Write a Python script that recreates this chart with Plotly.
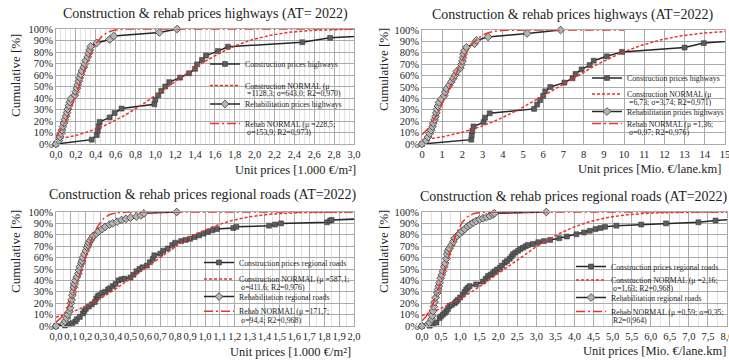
import math
import numpy as np
import plotly.graph_objects as go

# ---------------------------------------------------------------------------
# Cumulative distributions of construction / rehabilitation unit prices (AT 2022)
# x = unit price, pct = cumulative share [%]
# ---------------------------------------------------------------------------

# Highways, unit prices in 1.000 €/m²
hw_m2_con_x = [0.00, 0.36, 0.41, 0.42, 0.43, 0.44, 0.54, 0.59, 0.66, 0.99, 1.00, 1.03, 1.06,
               1.10, 1.14, 1.25, 1.34, 1.40, 1.42, 1.47, 1.51, 1.63, 1.73, 2.48, 2.76, 3.55]
hw_m2_con_pct = [0.0, 3.8, 7.7, 11.5, 15.4, 19.2, 23.1, 26.9, 30.8, 34.6, 38.5, 42.3, 46.2,
                 50.0, 53.8, 57.7, 61.5, 65.4, 69.2, 73.1, 76.9, 80.8, 84.6, 88.5, 92.3, 96.2]
hw_m2_reh_x = [0.00, 0.03, 0.04, 0.05, 0.06, 0.07, 0.08, 0.09, 0.10, 0.11, 0.12, 0.13, 0.14,
               0.15, 0.19, 0.20, 0.21, 0.22, 0.23, 0.24, 0.25, 0.26, 0.28, 0.29, 0.30, 0.32,
               0.33, 0.34, 0.35, 0.41, 0.54, 0.58, 1.04, 1.22]
hw_m2_reh_pct = [0.0, 3.0, 6.1, 9.1, 12.1, 15.2, 18.2, 21.2, 24.2, 27.3, 30.3, 33.3, 36.4,
                 39.4, 42.4, 45.5, 48.5, 51.5, 54.5, 57.6, 60.6, 63.6, 66.7, 69.7, 72.7, 75.8,
                 78.8, 81.8, 84.8, 87.9, 90.9, 93.9, 97.0, 100.0]

# Highways, unit prices in Mio. €/lane.km
hw_km_con_x = [0.00, 2.44, 2.46, 2.49, 2.55, 3.05, 3.12, 3.35, 5.55, 5.70, 5.85, 6.00, 6.10,
               6.35, 7.05, 7.45, 7.60, 7.90, 8.30, 8.50, 9.15, 9.90, 13.00, 13.95, 17.00]
hw_km_con_pct = [0.0, 3.8, 7.7, 11.5, 15.4, 19.2, 23.1, 26.9, 30.8, 34.6, 38.5, 42.3, 46.2,
                 50.0, 53.8, 57.7, 61.5, 65.4, 69.2, 73.1, 76.9, 80.8, 84.6, 88.5, 92.3]
hw_km_reh_x = [0.00, 0.20, 0.30, 0.38, 0.45, 0.52, 0.56, 0.62, 0.67, 0.71, 0.74, 0.79, 0.84,
               0.95, 1.10, 1.15, 1.22, 1.35, 1.45, 1.55, 1.65, 1.72, 1.90, 1.95, 2.00, 2.03,
               2.06, 2.10, 2.20, 2.60, 2.70, 3.27, 5.20, 6.86]
hw_km_reh_pct = hw_m2_reh_pct

# Regional roads, unit prices in 1.000 €/m²
rr_m2_con_x = [0.00, 0.06, 0.09, 0.11, 0.13, 0.14, 0.16, 0.18, 0.19, 0.20, 0.22, 0.24, 0.26,
               0.27, 0.28, 0.29, 0.31, 0.33, 0.35, 0.36, 0.38, 0.40, 0.42, 0.44, 0.46, 0.50,
               0.52, 0.54, 0.56, 0.58, 0.61, 0.63, 0.65, 0.66, 0.70, 0.72, 0.75, 0.78, 0.80,
               0.84, 0.87, 0.90, 0.93, 0.96, 0.99, 1.02, 1.05, 1.08, 1.19, 1.21, 1.43, 1.47,
               1.51, 1.82, 1.84, 1.85, 2.25]
rr_m2_con_pct = [0.0, 0.5, 1.5, 2.5, 4.0, 6.0, 8.0, 11.0, 13.0, 15.0, 17.0, 19.0, 21.0,
                 24.0, 26.0, 27.0, 29.0, 30.0, 32.0, 33.0, 35.0, 37.0, 40.0, 41.0, 41.5, 42.5,
                 45.0, 48.0, 50.0, 51.5, 53.0, 56.0, 59.0, 62.0, 63.5, 66.0, 68.0, 71.0, 73.0,
                 74.5, 75.5, 76.5, 78.0, 79.5, 81.0, 82.5, 84.0, 85.0, 86.0, 87.0, 88.0, 89.0,
                 90.0, 91.0, 92.5, 93.0, 95.0]
rr_m2_reh_x = [0.00, 0.05, 0.06, 0.07, 0.08, 0.09, 0.095, 0.10, 0.105, 0.11, 0.115, 0.12,
               0.125, 0.13, 0.14, 0.15, 0.155, 0.16, 0.17, 0.175, 0.18, 0.19, 0.20, 0.21,
               0.215, 0.22, 0.23, 0.24, 0.25, 0.27, 0.285, 0.31, 0.33, 0.36, 0.38, 0.41,
               0.44, 0.47, 0.50, 0.54, 0.57, 0.59, 0.81]
rr_m2_reh_pct = [0.0, 2.0, 4.0, 7.0, 10.0, 13.0, 16.0, 20.0, 23.0, 27.0, 30.0, 34.0,
                 37.0, 40.0, 43.0, 46.0, 49.0, 52.0, 55.0, 57.0, 60.0, 63.0, 66.0, 69.0,
                 71.0, 73.0, 75.0, 77.0, 79.0, 81.0, 83.0, 85.0, 87.0, 89.0, 90.0, 91.5,
                 93.0, 94.0, 95.0, 96.0, 97.0, 98.8, 100.0]

# Regional roads, unit prices in Mio. €/lane.km
rr_km_con_x = [0.00, 0.20, 0.29, 0.38, 0.46, 0.50, 0.55, 0.60, 0.64, 0.68, 0.72, 0.78, 0.86,
               0.90, 0.94, 1.00, 1.07, 1.12, 1.16, 1.20, 1.25, 1.42, 1.60, 1.67, 1.73, 1.80,
               1.86, 1.91, 1.97, 2.04, 2.10, 2.17, 2.23, 2.30, 2.35, 2.39, 2.45, 2.52, 2.58,
               2.65, 2.72, 2.78, 2.91, 3.05, 3.20, 3.36, 3.60, 3.80, 4.05, 4.25, 4.40, 4.55,
               4.68, 4.80, 5.10, 5.75, 6.40, 7.25, 7.70, 8.40]
rr_km_con_pct = [0.0, 0.3, 1.5, 3.0, 7.0, 8.5, 10.0, 11.5, 13.0, 15.0, 17.5, 18.5, 20.0,
                 21.5, 23.0, 25.0, 27.5, 30.0, 32.0, 33.5, 35.0, 36.5, 39.0, 41.5, 43.9, 45.0,
                 46.5, 48.0, 49.5, 51.0, 53.0, 55.6, 57.0, 59.0, 61.0, 63.0, 64.5, 66.0, 67.5,
                 68.7, 70.0, 71.0, 72.0, 73.5, 74.5, 75.5, 77.0, 78.5, 80.5, 82.0, 83.5, 85.0,
                 86.0, 87.0, 88.0, 89.0, 90.0, 91.0, 92.5, 94.2]
rr_km_reh_x = [0.00, 0.16, 0.20, 0.25, 0.27, 0.29, 0.31, 0.33, 0.36, 0.40, 0.42, 0.44, 0.46,
               0.49, 0.52, 0.55, 0.58, 0.61, 0.64, 0.66, 0.68, 0.72, 0.77, 0.82, 0.86, 0.92,
               0.99, 1.05, 1.12, 1.20, 1.27, 1.34, 1.42, 1.51, 1.60, 1.69, 1.78, 1.86, 1.90,
               3.26]
rr_km_reh_pct = [0.0, 1.5, 3.0, 6.0, 9.0, 13.0, 17.0, 21.0, 25.0, 29.0, 32.0, 35.0, 38.0,
                 42.0, 45.0, 48.0, 52.0, 55.0, 59.0, 63.0, 66.0, 68.0, 71.0, 74.0, 77.0, 79.0,
                 81.0, 83.0, 85.0, 87.5, 89.0, 90.6, 92.0, 93.6, 94.5, 95.5, 96.5, 97.8, 98.9,
                 100.0]

# Normal fits (mean, standard deviation) in axis units
hw_m2_con_fit = (1.1283, 0.6430)   # μ = 1128,3 €/m², σ = 643,0
hw_m2_reh_fit = (0.2285, 0.1539)   # μ = 228,5 €/m²,  σ = 153,9
hw_km_con_fit = (6.73, 3.74)
hw_km_reh_fit = (1.36, 0.97)
rr_m2_con_fit = (0.5871, 0.4116)   # μ = 587,1 €/m², σ = 411,6
rr_m2_reh_fit = (0.1717, 0.0944)   # μ = 171,7 €/m², σ = 94,4
rr_km_con_fit = (2.16, 1.63)
rr_km_reh_fit = (0.59, 0.35)

titles = [
    "Construction & rehab prices highways (AT= 2022)",
    "Construction & rehab prices highways (AT=2022)",
    "Construction & rehab prices regional roads (AT=2022)",
    "Construction & rehab prices regional roads (AT=2022)",
]
x_titles = ["Unit prices [1.000 €/m²]", "Unit prices [Mio. €/lane.km]",
            "Unit prices [1.000 €/m²]", "Unit prices [Mio. €/lane.km]"]
y_title = "Cumulative [%]"

series_names = [
    ["Construction prices highways",
     "Construction NORMAL (μ<br>=1128,3; σ=643,0; R2=0,970)",
     "Rehabilitation prices highways",
     "Rehab NORMAL (μ =228,5;<br>σ=153,9; R2=0,973)"],
    ["Construction prices highways",
     "Construction NORMAL (μ<br>=6,73; σ=3,74; R2=0,971)",
     "Rehabilitation prices highways",
     "Rehab NORMAL (μ =1,36;<br>σ=0,97; R2=0,976)"],
    ["Construction prices regional roads",
     "Construction NORMAL (μ =587,1;<br>σ=411,6; R2=0,976)",
     "Rehabilitation regional roads",
     "Rehab NORMAL (μ =171,7;<br>σ=94,4; R2=0,968)"],
    ["Construction prices regional roads",
     "Construction NORMAL (μ =2,16;<br>σ=1,63; R2=0,968)",
     "Rehabilitation regional roads",
     "Rehab NORMAL (μ =0,59; σ=0,35;<br>R2=0,964)"],
]

# ---------------------------------------------------------------------------
# Layout geometry (pixels of a 729 x 361 canvas)
# ---------------------------------------------------------------------------
W, H = 729, 361
FONT = "Liberation Serif, Times New Roman, serif"
TXT = "#1e1e1e"
RED = "#ec3326"
GRID = "#ababab"
MINOR = "#e2e2e2"
LEG_SIZE = 7.8
TICK_SIZE = 10.5


def fx(px):
    return px / W


def fy(py):
    return 1 - py / H


# leg_y: centre of the first text line of each legend entry,
# leg_y2: centre of the wrapped second line (None for single-line entries)
panels = [
    dict(con=(hw_m2_con_x, hw_m2_con_pct), reh=(hw_m2_reh_x, hw_m2_reh_pct),
         fits=(hw_m2_con_fit, hw_m2_reh_fit), fit_end=(3.0, 3.0),
         box=(56, 354, 29, 144), xrange=(0, 3), dtick=0.2, minor=0.05, fmt=".1f",
         title_pos=(205, 14), xtitle_pos=(358, 170), ytitle_pos=(15, 76),
         leg_x=245, leg_y=(64, 85.5, 104, 123.5), leg_y2=(None, 94, None, 132.5)),
    dict(con=(hw_km_con_x, hw_km_con_pct), reh=(hw_km_reh_x, hw_km_reh_pct),
         fits=(hw_km_con_fit, hw_km_reh_fit), fit_end=(15.0, 10.0),
         box=(422, 725, 30, 144), xrange=(0, 15), dtick=1, minor=None, fmt="d",
         title_pos=(573, 15), xtitle_pos=(723, 169), ytitle_pos=(383, 70),
         leg_x=627, leg_y=(78, 94, 111.5, 123.5), leg_y2=(None, 102.5, None, 132)),
    dict(con=(rr_m2_con_x, rr_m2_con_pct), reh=(rr_m2_reh_x, rr_m2_reh_pct),
         fits=(rr_m2_con_fit, rr_m2_reh_fit), fit_end=(2.0, 2.0),
         box=(56, 354, 212, 326), xrange=(0, 2), dtick=0.1, minor=0.05, fmt=".1f",
         title_pos=(203, 195), xtitle_pos=(353, 352), ytitle_pos=(15, 252),
         leg_x=239, leg_y=(262.5, 279, 296.5, 311.3), leg_y2=(None, 287.8, None, 320)),
    dict(con=(rr_km_con_x, rr_km_con_pct), reh=(rr_km_reh_x, rr_km_reh_pct),
         fits=(rr_km_con_fit, rr_km_reh_fit), fit_end=(8.0, 8.0),
         box=(422, 727, 212, 326), xrange=(0, 8), dtick=0.5, minor=0.25, fmt=".1f",
         title_pos=(574, 197), xtitle_pos=(728, 351), ytitle_pos=(383, 252),
         leg_x=611, leg_y=(266.5, 280, 297.5, 311.5), leg_y2=(None, 288.5, None, 320.5)),
]


def normal_cdf_pct(xs, mu, sd):
    return [50.0 * (1.0 + math.erf((v - mu) / (sd * math.sqrt(2.0)))) for v in xs]


fig = go.Figure()
layout = dict(
    width=W, height=H,
    margin=dict(l=0, r=0, t=0, b=0, autoexpand=False),
    paper_bgcolor="white", plot_bgcolor="white",
    font=dict(family=FONT, color=TXT),
    separators=",.",
    annotations=[],
)

legend_idx = 0
for k, p in enumerate(panels):
    sfx = "" if k == 0 else str(k + 1)
    xa, ya = "x" + sfx, "y" + sfx
    x0, x1, ytop, ybot = p["box"]

    (mu_c, sd_c), (mu_r, sd_r) = p["fits"]
    fit_x_c = np.linspace(0, p["fit_end"][0], 300)
    fit_x_r = np.linspace(0, p["fit_end"][1], 300)

    traces = [
        go.Scatter(x=p["con"][0], y=p["con"][1], mode="lines+markers",
                   line=dict(color="#262626", width=1.5),
                   marker=dict(symbol="square", size=5, color="#5c5c5c",
                               line=dict(color="#333333", width=0.5)),
                   cliponaxis=False),
        go.Scatter(x=fit_x_c, y=normal_cdf_pct(fit_x_c, mu_c, sd_c), mode="lines",
                   line=dict(color=RED, width=1.5, dash="3px,2px")),
        go.Scatter(x=p["reh"][0], y=p["reh"][1], mode="lines+markers",
                   line=dict(color="#262626", width=1.5),
                   marker=dict(symbol="diamond", size=6, color="#b5b5b5",
                               line=dict(color="#3c3c3c", width=0.8)),
                   cliponaxis=False),
        go.Scatter(x=fit_x_r, y=normal_cdf_pct(fit_x_r, mu_r, sd_r), mode="lines",
                   line=dict(color=RED, width=1.5, dash="9px,3px,2px,3px")),
    ]
    for j, tr in enumerate(traces):
        lid = "legend" if legend_idx == 0 else "legend%d" % (legend_idx + 1)
        parts = series_names[k][j].split("<br>")
        tr.update(name=parts[0], xaxis=xa, yaxis=ya, legend=lid,
                  showlegend=True, hoverinfo="skip")
        fig.add_trace(tr)
        layout[lid] = dict(
            x=fx(p["leg_x"] - 40), xanchor="left", xref="paper",
            y=fy(p["leg_y"][j]), yanchor="middle", yref="paper",
            bgcolor="rgba(0,0,0,0)", borderwidth=0,
            itemwidth=30, font=dict(family=FONT, size=LEG_SIZE, color=TXT),
        )
        if len(parts) > 1:
            layout["annotations"].append(dict(
                text=parts[1], x=fx(p["leg_x"]), y=fy(p["leg_y2"][j]),
                xref="paper", yref="paper", xanchor="left", yanchor="middle",
                showarrow=False, font=dict(family=FONT, size=LEG_SIZE, color=TXT)))
        legend_idx += 1

    minor = dict(dtick=p["minor"], showgrid=True, gridcolor=MINOR, gridwidth=1) \
        if p["minor"] else dict(showgrid=False)
    layout["xaxis" + sfx] = dict(
        domain=[fx(x0), fx(x1)], range=list(p["xrange"]), anchor=ya,
        tick0=0, dtick=p["dtick"], tickformat=p["fmt"], tickangle=0,
        ticklabeloverflow="allow",
        showgrid=True, gridcolor=GRID, gridwidth=1, minor=minor,
        showline=True, linecolor=GRID, linewidth=1, mirror=True,
        zeroline=False, ticks="", tickfont=dict(family=FONT, size=TICK_SIZE, color=TXT),
    )
    layout["yaxis" + sfx] = dict(
        domain=[fy(ybot), fy(ytop)], range=[0, 100], anchor=xa,
        tick0=0, dtick=10, ticksuffix="%",
        showgrid=True, gridcolor=GRID, gridwidth=1,
        showline=True, linecolor=GRID, linewidth=1, mirror=True,
        zeroline=False, ticks="", tickfont=dict(family=FONT, size=TICK_SIZE, color=TXT),
    )

    layout["annotations"] += [
        dict(text=titles[k], x=fx(p["title_pos"][0]), y=fy(p["title_pos"][1]),
             xref="paper", yref="paper", xanchor="center", yanchor="middle",
             showarrow=False, font=dict(family=FONT, size=14, color=TXT)),
        dict(text=x_titles[k], x=fx(p["xtitle_pos"][0]), y=fy(p["xtitle_pos"][1]),
             xref="paper", yref="paper", xanchor="right", yanchor="middle",
             showarrow=False, font=dict(family=FONT, size=12.5, color=TXT)),
        dict(text=y_title, x=fx(p["ytitle_pos"][0]), y=fy(p["ytitle_pos"][1]),
             xref="paper", yref="paper", xanchor="center", yanchor="middle",
             textangle=-90, showarrow=False, font=dict(family=FONT, size=13, color=TXT)),
    ]

fig.update_layout(**layout)
fig.write_html("out.html")
